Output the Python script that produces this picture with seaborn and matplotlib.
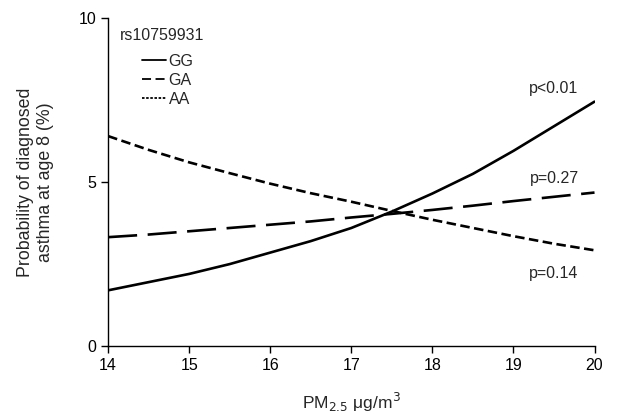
import numpy as np
import pandas as pd
import matplotlib
matplotlib.use("Agg")
import matplotlib.pyplot as plt
import seaborn as sns

# PM2.5 exposure (ug/m3) and predicted probability (%) per genotype
pm25 = [14, 14.5, 15, 15.5, 16, 16.5, 17, 17.5, 18, 18.5, 19, 19.5, 20]
prob_gg = [1.7, 1.95, 2.2, 2.5, 2.85, 3.2, 3.6, 4.1, 4.65, 5.25, 5.95, 6.7, 7.45]
prob_ga = [3.32, 3.4, 3.5, 3.6, 3.7, 3.8, 3.92, 4.03, 4.15, 4.28, 4.42, 4.55, 4.68]
prob_aa = [6.4, 5.98, 5.6, 5.27, 4.95, 4.66, 4.4, 4.12, 3.85, 3.6, 3.35, 3.12, 2.92]
genotypes = ["GG", "GA", "AA"]
p_labels = ["p<0.01", "p=0.27", "p=0.14"]
p_label_y = [7.85, 5.12, 2.22]

df = pd.DataFrame({
    "pm": pm25 * 3,
    "prob": prob_gg + prob_ga + prob_aa,
    "geno": [g for g in genotypes for _ in pm25],
})

sns.set_style("ticks")
plt.rcParams["font.family"] = ["Liberation Sans", "DejaVu Sans"]

fig = plt.figure(figsize=(6.18, 4.18), dpi=100)
ax = fig.add_axes([0.175, 0.172, 0.787, 0.785])

dashes = {"GG": "", "GA": (11, 4), "AA": (3.6, 1.7)}
sns.lineplot(data=df, x="pm", y="prob", hue="geno", style="geno",
             palette={g: "black" for g in genotypes}, dashes=dashes,
             linewidth=1.9, ax=ax)

for lab, yy in zip(p_labels, p_label_y):
    ax.text(19.5, yy, lab, ha="center", va="center", fontsize=11.5)

ax.set_xlim(14, 20)
ax.set_ylim(0, 10)
ax.set_xticks(range(14, 21))
ax.set_yticks([0, 5, 10])
ax.tick_params(direction="out", length=5, width=1, labelsize=11.5, colors="black")
sns.despine(ax=ax)
for sp in ["left", "bottom"]:
    ax.spines[sp].set_linewidth(1)
    ax.spines[sp].set_color("black")

ax.set_xlabel(r"PM$_{2.5}$ $\mathregular{\mu}$g/m$^3$", fontsize=12.5, labelpad=13)
ax.set_ylabel("Probability of diagnosed\nasthma at age 8 (%)", fontsize=12.8, labelpad=18)

# legend: title sits left, entries indented
ax.text(0.025, 0.948, "rs10759931", transform=ax.transAxes, ha="left", va="center",
        fontsize=11.5)
leg = ax.legend(loc="upper left", bbox_to_anchor=(0.07, 0.89), frameon=False,
                fontsize=11.5, handlelength=1.5, handletextpad=0.15,
                labelspacing=0.25, borderpad=0, borderaxespad=0)
leg_dashes = {"GG": None, "GA": (5, 2.5), "AA": (1.4, 0.9)}
for h, t in zip(leg.get_lines(), leg.get_texts()):
    h.set_linewidth(1.3)
    d = leg_dashes[t.get_text()]
    if d is not None:
        h.set_dashes(d)

fig.savefig("out.png", dpi=100)
